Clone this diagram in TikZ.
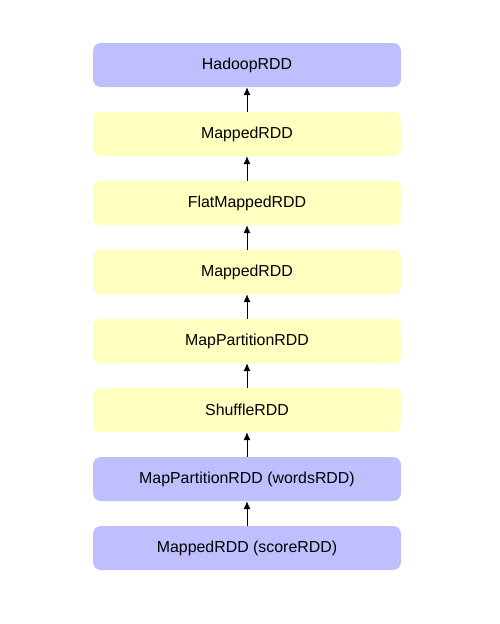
\documentclass[tikz,border=0pt]{standalone}
\usepackage{fontspec}
\setmainfont{Liberation Sans}
\usetikzlibrary{arrows.meta}
\definecolor{purp}{RGB}{191,191,255}
\definecolor{yell}{RGB}{255,255,191}
\tikzset{
  rdd/.style={rounded corners=8pt, minimum width=308pt, minimum height=44pt, inner sep=0pt, font=\fontsize{15.9pt}{19pt}\selectfont, draw=none},
  pbox/.style={rdd, fill=purp},
  ybox/.style={rdd, fill=yell},
  dep/.style={-{Latex[length=8pt,width=7pt]}, line width=1pt}
}
\begin{document}
\begin{tikzpicture}[x=1pt,y=-1pt]
\useasboundingbox (0,0) rectangle (499,624);
\node[pbox] (n1) at (247,65) {\raisebox{-1.5pt}{HadoopRDD}};
\node[ybox] (n2) at (247,134) {\raisebox{-1.5pt}{MappedRDD}};
\node[ybox] (n3) at (247,203) {\raisebox{-1.5pt}{FlatMappedRDD}};
\node[ybox] (n4) at (247,272) {\raisebox{-1.5pt}{MappedRDD}};
\node[ybox] (n5) at (247,341) {\raisebox{-1.5pt}{MapPartitionRDD}};
\node[ybox] (n6) at (247,410) {\raisebox{-1.5pt}{ShuffleRDD}};
\node[pbox] (n7) at (247,479) {\raisebox{-1.5pt}{MapPartitionRDD (wordsRDD)}};
\node[pbox] (n8) at (247,548) {\raisebox{-1.5pt}{MappedRDD (scoreRDD)}};
\draw[dep] (n2) -- (n1);
\draw[dep] (n3) -- (n2);
\draw[dep] (n4) -- (n3);
\draw[dep] (n5) -- (n4);
\draw[dep] (n6) -- (n5);
\draw[dep] (n7) -- (n6);
\draw[dep] (n8) -- (n7);
\end{tikzpicture}
\end{document}
